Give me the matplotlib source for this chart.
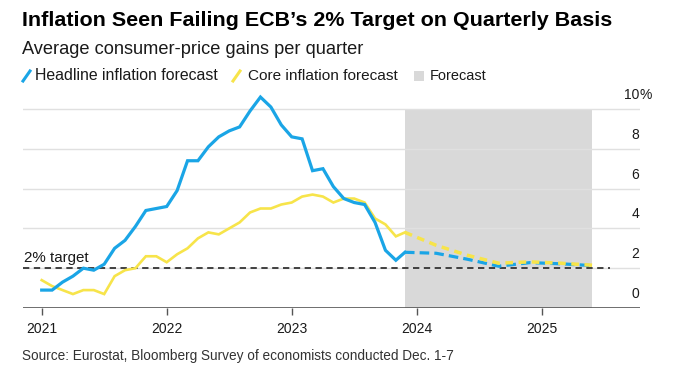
import matplotlib
matplotlib.use("Agg")
import matplotlib.pyplot as plt
from matplotlib.lines import Line2D
from matplotlib.patches import Rectangle
import numpy as np

# ---------------- data ----------------
start_year = 2021.0
headline = [0.9, 0.9, 1.3, 1.6, 2.0, 1.9, 2.2, 3.0, 3.4, 4.1, 4.9, 5.0,
            5.1, 5.9, 7.4, 7.4, 8.1, 8.6, 8.9, 9.1, 9.9, 10.6, 10.1, 9.2,
            8.6, 8.5, 6.9, 7.0, 6.1, 5.5, 5.3, 5.2, 4.3, 2.9, 2.4]
core = [1.4, 1.1, 0.9, 0.7, 0.9, 0.9, 0.7, 1.6, 1.9, 2.0, 2.6, 2.6,
        2.3, 2.7, 3.0, 3.5, 3.8, 3.7, 4.0, 4.3, 4.8, 5.0, 5.0, 5.2,
        5.3, 5.6, 5.7, 5.6, 5.3, 5.5, 5.5, 5.3, 4.5, 4.2, 3.6]
forecast_dates = [2023.906, 2024.156, 2024.406, 2024.656, 2024.906, 2025.156, 2025.406]
headline_fc = [2.8, 2.75, 2.45, 2.1, 2.28, 2.22, 2.13]
core_fc = [3.8, 3.15, 2.65, 2.25, 2.32, 2.25, 2.15]
target = 2.0
year_ticks = [2021, 2022, 2023, 2024, 2025]
y_ticks = [0, 2, 4, 6, 8, 10]

BLUE = "#1AA5E6"
YELLOW = "#F7E44A"
SHADE = "#D9D9D9"
GRID = "#E0E0E0"
TEXT = "#1a1a1a"
FONT = "Liberation Sans"

plt.rcParams['font.family'] = [FONT, 'DejaVu Sans']

W, H = 700, 386
fig = plt.figure(figsize=(W / 100, H / 100), dpi=100)
fig.patch.set_facecolor("white")


def fx(px):
    return px / W


def fy(py):
    return 1 - py / H


# axes: x pixels 23..640, y: value 0 at 308 px, 19.9 px per unit, ylim 0..11
ymax = 11.0
ppu = 19.9
ax_left, ax_right = 23, 640
y0_px = 308
ax_top_px = y0_px - ymax * ppu
ax = fig.add_axes([fx(ax_left), fy(y0_px), (ax_right - ax_left) / W, (y0_px - ax_top_px) / H])

px_per_year = 125.0
x_first_px = 41.7
xmin = start_year - (x_first_px - ax_left) / px_per_year
xmax = start_year + (ax_right - x_first_px) / px_per_year
ax.set_xlim(xmin, xmax)
ax.set_ylim(0, ymax)

months = np.array([start_year + i / 12 for i in range(len(headline))])

# forecast shade
ax.add_patch(Rectangle((forecast_dates[0], 0), forecast_dates[-1] - forecast_dates[0], 10,
                       facecolor=SHADE, edgecolor="none", zorder=0.5))

# gridlines
for v in y_ticks[1:]:
    ax.axhline(v, color=GRID, lw=1.0, zorder=0.6)

# target line
ax.plot([xmin, start_year + (610 - x_first_px) / px_per_year], [target, target],
        color="#333333", lw=1.3, ls=(0, (3.5, 2.5)), zorder=2, solid_capstyle='butt')

# historical lines (connected to first forecast point)
hx = list(months) + [forecast_dates[0]]
ax.plot(hx, core + [core_fc[0]], color=YELLOW, lw=1.9, zorder=3, solid_joinstyle='miter')
ax.plot(hx, headline + [headline_fc[0]], color=BLUE, lw=2.3, zorder=4, solid_joinstyle='miter')
# forecasts
ax.plot(forecast_dates, headline_fc, color=BLUE, lw=2.3, ls=(0, (3, 1.6)), zorder=5)
ax.plot(forecast_dates, core_fc, color=YELLOW, lw=2.5, ls=(0, (2.2, 1.6)), zorder=6)

# axes styling
for s in ax.spines.values():
    s.set_visible(False)
ax.axhline(0, color="#555555", lw=1.2, zorder=7)
ax.set_xticks(year_ticks)
ax.set_xticklabels([str(y) for y in year_ticks], fontsize=10, color=TEXT)
ax.tick_params(axis='x', length=5, width=1, color="#555555", pad=5)
ax.set_yticks([])
ax.patch.set_visible(False)

# right-side y labels
for v in y_ticks:
    ypx = y0_px - v * ppu - 14
    fig.text(fx(639), fy(ypx), str(v), ha='right', va='center', fontsize=10, color=TEXT)
    if v == y_ticks[-1]:
        fig.text(fx(639.5), fy(ypx), "%", ha='left', va='center', fontsize=10, color=TEXT)

renderer = fig.canvas.get_renderer()


def fit(t, width_px):
    w = t.get_window_extent(renderer).width
    t.set_fontsize(t.get_fontsize() * width_px / w)


# target label
t = fig.text(fx(24), fy(258), "2% target", ha='left', va='center', fontsize=11, color=TEXT)
fit(t, 65)

# titles
t = fig.text(fx(22), fy(20), "Inflation Seen Failing ECB\u2019s 2% Target on Quarterly Basis",
             ha='left', va='center', fontsize=14, fontweight='bold', color="#000000")
fit(t, 590)
t = fig.text(fx(22), fy(49), "Average consumer-price gains per quarter",
             ha='left', va='center', fontsize=12, color=TEXT)
fit(t, 344)

# legend
ly = 76
fig.add_artist(Line2D([fx(23), fx(30)], [fy(ly + 5), fy(ly - 5)], color=BLUE, lw=2.2))
t = fig.text(fx(35), fy(ly), "Headline inflation forecast", ha='left', va='center', fontsize=11, color=TEXT)
fit(t, 183)
fig.add_artist(Line2D([fx(233), fx(240)], [fy(ly + 5), fy(ly - 5)], color=YELLOW, lw=2.2))
t = fig.text(fx(248), fy(ly), "Core inflation forecast", ha='left', va='center', fontsize=11, color=TEXT)
fit(t, 150)
fig.add_artist(Rectangle((fx(414), fy(ly + 5)), 10 / W, 10 / H, transform=fig.transFigure,
                         facecolor=SHADE, edgecolor='none'))
t = fig.text(fx(430), fy(ly), "Forecast", ha='left', va='center', fontsize=11, color=TEXT)
fit(t, 56)

# source
t = fig.text(fx(22), fy(356), "Source: Eurostat, Bloomberg Survey of economists conducted Dec. 1-7",
             ha='left', va='center', fontsize=9, color="#333333")
fit(t, 431)

fig.savefig("out.png", dpi=100, facecolor="white")
